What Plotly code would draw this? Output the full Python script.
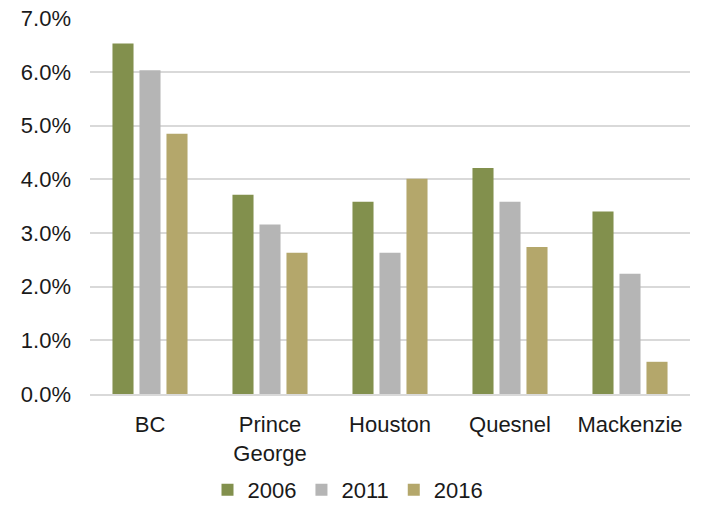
import plotly.graph_objects as go

CATEGORIES = ["BC", "Prince<br>George", "Houston", "Quesnel", "Mackenzie"]
YEARS = ["2006", "2011", "2016"]
VALUES_2006 = [0.0653, 0.0371, 0.0358, 0.0421, 0.0340]
VALUES_2011 = [0.0603, 0.0316, 0.0263, 0.0358, 0.0224]
VALUES_2016 = [0.0485, 0.0263, 0.0401, 0.0274, 0.0060]
Y_TICKS = [0.0, 0.01, 0.02, 0.03, 0.04, 0.05, 0.06, 0.07]
Y_TICK_LABELS = ["0.0%", "1.0%", "2.0%", "3.0%", "4.0%", "5.0%", "6.0%", "7.0%"]

COLORS = {"2006": "#82904D", "2011": "#B5B5B5", "2016": "#B4A76B"}

fig = go.Figure()
for year, vals in zip(YEARS, [VALUES_2006, VALUES_2011, VALUES_2016]):
    fig.add_trace(go.Bar(
        x=CATEGORIES, y=vals, name=year,
        marker=dict(color=COLORS[year], line=dict(width=0)),
    ))

# figure sized to sit inside the window together with the 8px page margin
fig.update_layout(
    barmode="group", bargap=0.325, bargroupgap=0.22,
    width=686, height=498,
    margin=dict(l=82, r=4, t=10, b=112),
    paper_bgcolor="white", plot_bgcolor="white",
    font=dict(family="Liberation Sans, Arial, sans-serif", size=22, color="#1a1a1a"),
    legend=dict(orientation="h", x=0.43, xanchor="center",
                yref="container", y=0.032, yanchor="middle",
                font=dict(size=22), itemwidth=30, traceorder="normal"),
)
fig.update_yaxes(range=[0, 0.07005], tickvals=Y_TICKS, ticktext=Y_TICK_LABELS,
                 gridcolor="#D9D9D9", gridwidth=1.5, zeroline=False,
                 showline=False, ticks="", ticklabelstandoff=18, automargin=False,
                 ticklabeloverflow="allow")
fig.update_xaxes(showline=True, linecolor="#D9D9D9", linewidth=1.5, ticks="",
                 tickfont=dict(size=22), ticklabelstandoff=10, automargin=False)

fig.write_html("out.html")
